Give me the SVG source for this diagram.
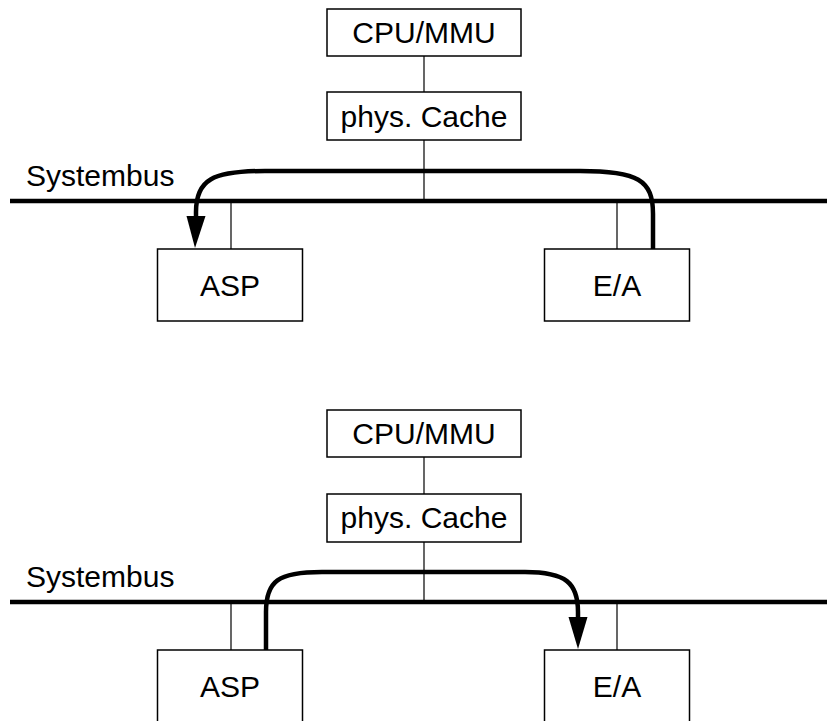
<svg xmlns="http://www.w3.org/2000/svg" width="827" height="721" viewBox="0 0 827 721">
<style>
.box{fill:#fff;stroke:#000;stroke-width:1.5}
.thin{stroke:#000;stroke-width:1.2;fill:none}
.bus{stroke:#000;stroke-width:4.5;fill:none}
.arr{stroke:#000;stroke-width:4.5;fill:none}
text{font-family:"Liberation Sans",Arial,sans-serif;font-size:30px;fill:#000}
.c{text-anchor:middle}
</style>
<rect width="827" height="721" fill="#fff"/>

<!-- Top diagram -->
<g id="connectors-top">
<line class="thin" x1="424" y1="56" x2="424" y2="92"/>
<line class="thin" x1="424" y1="140" x2="424" y2="201"/>
<line class="thin" x1="231" y1="201" x2="231" y2="249"/>
<line class="thin" x1="617" y1="201" x2="617" y2="249"/>
<line class="bus" x1="10" y1="201" x2="827" y2="201"/>
<path class="arr" d="M653,249 L653,214 C653,180 638,171 580,171 L265,171 C212,171 196,180 196,212 L196,216"/>
<path d="M186.5,216 L205.5,216 L195,248 Z" fill="#000"/>
</g>
<text x="26" y="186">Systembus</text>
<g id="cpu1"><rect class="box" x="327" y="9" width="194" height="47"/><text class="c" x="424" y="43">CPU/MMU</text></g>
<g id="cache1"><rect class="box" x="327" y="92" width="194" height="48"/><text class="c" x="424" y="127">phys. Cache</text></g>
<g id="asp1"><rect class="box" x="157.5" y="249" width="145" height="72"/><text class="c" x="230" y="296">ASP</text></g>
<g id="ea1"><rect class="box" x="544.5" y="249" width="145" height="72"/><text class="c" x="617" y="296">E/A</text></g>

<!-- Bottom diagram -->
<g id="connectors-bottom">
<line class="thin" x1="424" y1="457" x2="424" y2="494"/>
<line class="thin" x1="424" y1="542" x2="424" y2="602"/>
<line class="thin" x1="231" y1="602" x2="231" y2="650"/>
<line class="thin" x1="617" y1="602" x2="617" y2="650"/>
<line class="bus" x1="10" y1="602" x2="827" y2="602"/>
<path class="arr" d="M266,651 L266,612 C266,581 278,572 322,572 L525,572 C566,572 578,583 578,612 L578,617"/>
<path d="M568.5,617 L587.5,617 L578,649 Z" fill="#000"/>
</g>
<text x="26" y="587">Systembus</text>
<g id="cpu2"><rect class="box" x="327" y="410" width="194" height="47"/><text class="c" x="424" y="444">CPU/MMU</text></g>
<g id="cache2"><rect class="box" x="327" y="494" width="194" height="48"/><text class="c" x="424" y="528">phys. Cache</text></g>
<g id="asp2"><rect class="box" x="157.5" y="650" width="145" height="80"/><text class="c" x="230" y="697">ASP</text></g>
<g id="ea2"><rect class="box" x="544.5" y="650" width="145" height="80"/><text class="c" x="617" y="697">E/A</text></g>
</svg>
